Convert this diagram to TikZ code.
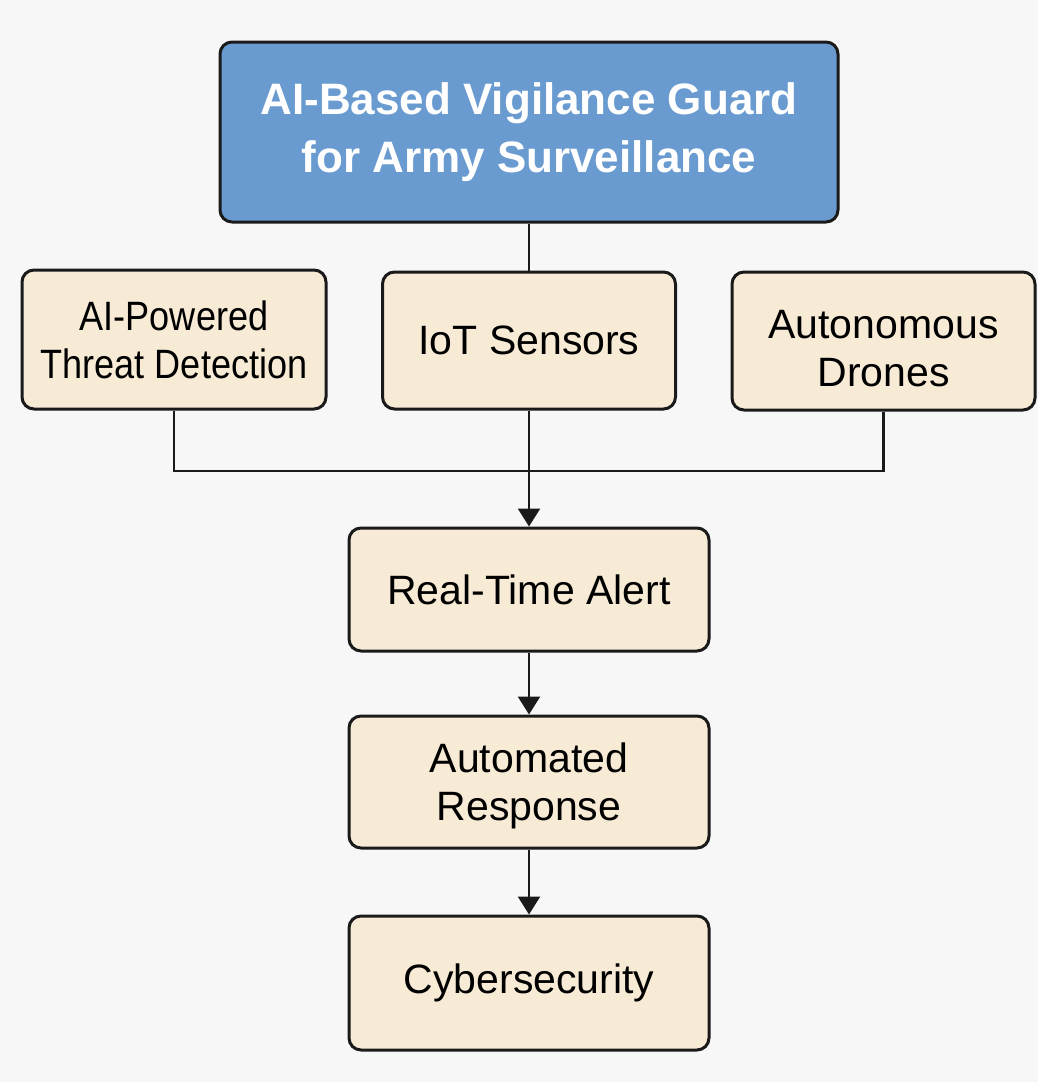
\documentclass[tikz,border=0pt]{standalone}
\usepackage{fontspec}
\setmainfont{Liberation Sans}
\newfontfamily\narrowsans[FakeStretch=0.88]{Liberation Sans}
\usetikzlibrary{arrows.meta}

\definecolor{pagebg}{HTML}{F7F7F7}
\definecolor{titleblue}{HTML}{6A9BD0}
\definecolor{cream}{HTML}{F8EBD6}
\definecolor{inkline}{HTML}{1A1A1A}

\tikzset{
  boxfont/.style={font=\fontsize{20.5}{24}\selectfont},
  box/.style={draw=inkline, line width=1.5pt, rounded corners=6pt,
    fill=cream, align=center, inner sep=0pt, text=black, boxfont},
  boxtext/.style={align=center, inner sep=0pt, text=black, boxfont},
  titlebox/.style={box, fill=titleblue, text=white,
    font=\fontsize{22}{29}\selectfont\bfseries},
  link/.style={draw=inkline, line width=1.2pt},
  flow/.style={link, -{Triangle[width=11pt,length=9pt]}}
}

\begin{document}
\begin{tikzpicture}[x=0.5pt, y=-0.5pt]
  % page
  \fill[pagebg] (0,0) rectangle (1038,1082);
  \useasboundingbox (0,0) rectangle (1038,1082);

  % title
  \node[titlebox, minimum width=309pt, minimum height=90pt] (title) at (529,132)
    {AI-Based Vigilance Guard\\for Army Surveillance};

  % sources
  \node[box, minimum width=152pt, minimum height=69.5pt,
        font=\narrowsans\fontsize{20.5}{24}\selectfont] (threat) at (174,339.5)
    {AI-Powered\\Threat Detection};
  \node[box, minimum width=146.5pt, minimum height=68.5pt] (iot) at (529,340.5)
    {IoT Sensors};
  \node[box, minimum width=151.5pt, minimum height=69pt] (drones) at (883.5,341) {};
  \node[boxtext] (dronestext) at (883.5,349) {Autonomous\\Drones};

  % pipeline
  \node[box, minimum width=180pt, minimum height=61.5pt] (alert) at (529,589.5)
    {Real-Time Alert};
  \node[box, minimum width=180pt, minimum height=66pt] (response) at (529,782) {};
  \node[boxtext] (responsetext) at (529,786) {Automated\\Response};
  \node[box, minimum width=180pt, minimum height=67pt] (cyber) at (529,983)
    {Cybersecurity};

  % connectors
  \coordinate (join) at (529,471);
  \draw[link] (title.south) -- (iot.north);
  \draw[link] (threat.south) |- (join) -| (drones.south);
  \draw[flow] (iot.south) -- (alert.north);
  \draw[flow] (alert.south) -- (response.north);
  \draw[flow] (response.south) -- (cyber.north);
\end{tikzpicture}
\end{document}
